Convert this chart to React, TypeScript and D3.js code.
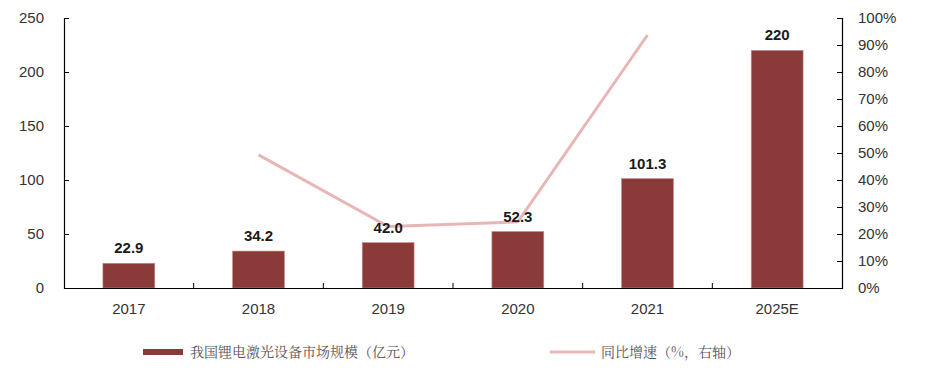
import React, { useEffect, useRef } from "react";
import * as d3 from "d3";

const years = ["2017", "2018", "2019", "2020", "2021", "2025E"];
const marketSize = [22.9, 34.2, 42.0, 52.3, 101.3, 220];
const sizeLabels = ["22.9", "34.2", "42.0", "52.3", "101.3", "220"];
const growthYears = ["2018", "2019", "2020", "2021"];
const growthRate = [49.3, 22.8, 24.5, 93.7];
const leftTicks = [0, 50, 100, 150, 200, 250];
const rightTicks = [0, 10, 20, 30, 40, 50, 60, 70, 80, 90, 100];

const BAR = "#8a3b39";
const LINE = "#e8b6b6";

export default function App() {
  const ref = useRef<SVGSVGElement>(null);

  useEffect(() => {
    const svg = d3.select(ref.current);
    svg.selectAll("*").remove();

    const left = 64, right = 842, top = 18, bottom = 288;
    const font = "'Liberation Sans', Arial, sans-serif";

    const x = d3.scaleBand().domain(years).range([left, right]).paddingInner(0.6).paddingOuter(0.3);
    const yL = d3.scaleLinear().domain([0, 250]).range([bottom, top]);
    const yR = d3.scaleLinear().domain([0, 100]).range([bottom, top]);
    const band = d3.scaleBand().domain(years).range([left, right]);

    // bars
    svg.append("g").selectAll("rect").data(marketSize).join("rect")
      .attr("x", (d, i) => x(years[i])!)
      .attr("y", d => yL(d))
      .attr("width", x.bandwidth())
      .attr("height", d => bottom - yL(d))
      .attr("fill", BAR)
      .attr("stroke", "#c98a88")
      .attr("stroke-width", 0.6);

    // growth line
    const line = d3.line<number>()
      .x((d, i) => band(growthYears[i])! + band.bandwidth() / 2)
      .y(d => yR(d));
    svg.append("path").datum(growthRate)
      .attr("d", line)
      .attr("fill", "none")
      .attr("stroke", LINE)
      .attr("stroke-width", 3);

    // value labels (on top of line)
    svg.append("g").selectAll("text").data(marketSize).join("text")
      .attr("x", (d, i) => x(years[i])! + x.bandwidth() / 2)
      .attr("y", d => yL(d) - 10)
      .attr("text-anchor", "middle")
      .attr("font-family", font)
      .attr("font-size", 15)
      .attr("font-weight", "bold")
      .attr("fill", "#1a1a1a")
      .text((d, i) => sizeLabels[i]);

    // axes
    const gL = svg.append("g").attr("transform", `translate(${left},0)`)
      .call(d3.axisLeft(yL).tickValues(leftTicks).tickSize(-5).tickPadding(16));
    const gR = svg.append("g").attr("transform", `translate(${right},0)`)
      .call(d3.axisRight(yR).tickValues(rightTicks).tickSize(-5).tickPadding(16).tickFormat(d => `${d}%`));
    const gB = svg.append("g").attr("transform", `translate(0,${bottom})`)
      .call(d3.axisBottom(band).tickSize(0).tickPadding(15));
    // category separators
    svg.append("g").selectAll("line").data(years.slice(1)).join("line")
      .attr("x1", d => band(d)!).attr("x2", d => band(d)!)
      .attr("y1", bottom).attr("y2", bottom - 5)
      .attr("stroke", "#000").attr("stroke-width", 1);

    [gL, gR, gB].forEach(g => {
      g.selectAll(".domain").attr("stroke", "#000").attr("stroke-width", 1.2);
      g.selectAll(".tick line").attr("stroke", "#000");
      g.selectAll("text").attr("font-family", font).attr("font-size", 15).attr("fill", "#333");
    });
    gL.selectAll(".tick text").attr("dx", -4);

    // legend
    const lg = svg.append("g").attr("font-family", "'Noto Serif CJK SC', 'Noto Sans CJK SC', serif")
      .attr("font-size", 14).attr("fill", "#555");
    lg.append("rect").attr("x", 143).attr("y", 349).attr("width", 40).attr("height", 6).attr("fill", BAR);
    lg.append("text").attr("x", 190).attr("y", 357).text("我国锂电激光设备市场规模（亿元）");
    lg.append("line").attr("x1", 550).attr("x2", 595).attr("y1", 352).attr("y2", 352)
      .attr("stroke", LINE).attr("stroke-width", 3);
    lg.append("text").attr("x", 601).attr("y", 357).text("同比增速（%，右轴）");
  }, []);

  return (
    <div style={{ margin: -8 }}>
      <svg ref={ref} width={939} height={374} style={{ display: "block", background: "#fff" }} />
    </div>
  );
}
